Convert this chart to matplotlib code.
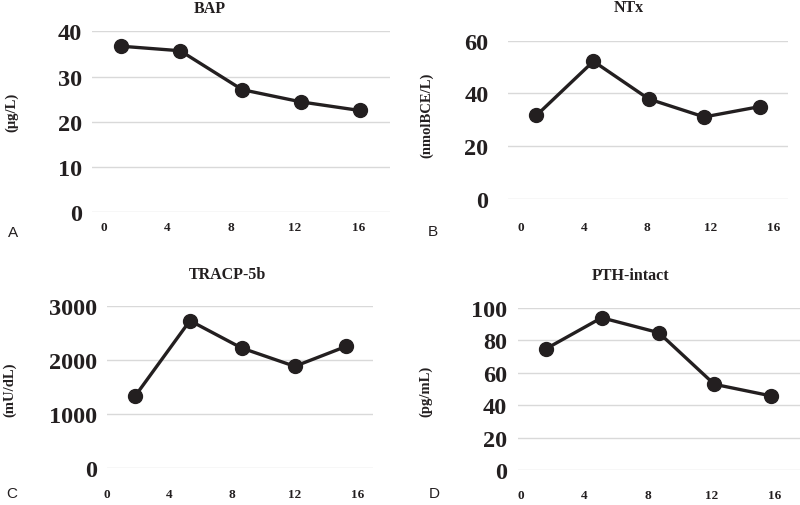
import matplotlib
matplotlib.use("Agg")
import matplotlib.pyplot as plt

# --- data ---
bap_weeks = [1.1, 4.8, 8.7, 12.4, 16.1]
bap_vals = [36.7, 35.7, 27.1, 24.4, 22.5]

ntx_weeks = [1.0, 4.6, 8.1, 11.6, 15.1]
ntx_vals = [31.7, 52.2, 37.9, 31.1, 35.0]

tracp_weeks = [1.8, 5.3, 8.6, 12.0, 15.3]
tracp_vals = [1336, 2729, 2224, 1885, 2255]

pth_weeks = [1.6, 5.1, 8.7, 12.2, 15.8]
pth_vals = [74.9, 94.0, 84.8, 53.0, 45.8]

x_ticks = [0, 4, 8, 12, 16]

W, H = 800, 506
fig = plt.figure(figsize=(W / 100, H / 100), dpi=100)
serif = "Liberation Serif"
sans = "Liberation Sans"
line_col = "#231f20"


def px_axes(x0, x1, ytop, ybot):
    return fig.add_axes([x0 / W, (H - ybot) / H, (x1 - x0) / W, (ybot - ytop) / H])


panels = [
    # x, y, yticks, xlim, box (x0, x1, ytop, ybot), title, title pos, ylabel, ylabel pos, letter pos, xpad, ypad
    (bap_weeks, bap_vals, [0, 10, 20, 30, 40], (-0.75, 18.0), (92, 390, 32.3, 213.3),
     "BAP", (210, 9), "(\u03bcg/L)", (12, 112), "A", (13, 233), 6, 7),
    (ntx_weeks, ntx_vals, [0, 20, 40, 60], (-0.8, 16.9), (508, 788, 41.7, 200),
     "NTx", (629, 8), "(nmolBCE/L)", (427, 115), "B", (433, 232), 15.5, 14),
    (tracp_weeks, tracp_vals, [0, 1000, 2000, 3000], (0.17, 17.0), (107, 373, 307, 469.3),
     "TRACP-5b", (228, 275), "(mU/dL)", (10, 390), "C", (12, 494), 14.5, 7),
    (pth_weeks, pth_vals, [0, 20, 40, 60, 80, 100], (-0.17, 17.6), (518, 800, 309, 471.3),
     "PTH-intact", (631, 276), "(pg/mL)", (426, 391), "D", (434, 494), 13.5, 8),
]

for (xs, ys, yt, xl, box, title, tpos, ylab, ypos, letter, lpos, xpad, ypad) in panels:
    ax = px_axes(*box)
    ax.plot(xs, ys, color=line_col, lw=2.4, marker="o", ms=10,
            markerfacecolor=line_col, markeredgecolor=line_col, clip_on=False, zorder=3)
    ax.set_ylim(yt[0], yt[-1])
    ax.set_xlim(*xl)
    ax.set_yticks(yt)
    ax.set_xticks(x_ticks)
    ax.grid(axis="y", color="#d9d9d9", lw=1.0)
    ax.grid(axis="x", visible=False)
    ax.set_axisbelow(True)
    for s in ax.spines.values():
        s.set_visible(False)
    ax.tick_params(length=0)
    ax.tick_params(axis="y", pad=ypad)
    ax.tick_params(axis="x", pad=xpad)
    for t in ax.get_yticklabels():
        t.set_fontfamily(serif)
        t.set_fontweight("bold")
        t.set_fontsize(17.5)
        t.set_color("#231f20")
    for t in ax.get_xticklabels():
        t.set_fontfamily(serif)
        t.set_fontweight("bold")
        t.set_fontsize(9.5)
        t.set_color("#231f20")

    fig.text(tpos[0] / W, 1 - tpos[1] / H, title, ha="center", va="center",
             fontfamily=serif, fontweight="bold", fontsize=11.5, color="#231f20")
    fig.text(ypos[0] / W, 1 - ypos[1] / H, ylab, ha="center", va="center", rotation=90,
             fontfamily=serif, fontweight="bold", fontsize=10.5, color="#231f20")
    fig.text(lpos[0] / W, 1 - lpos[1] / H, letter, ha="center", va="center",
             fontfamily=sans, fontsize=11, color="#231f20")

fig.savefig("out.png", dpi=100)
